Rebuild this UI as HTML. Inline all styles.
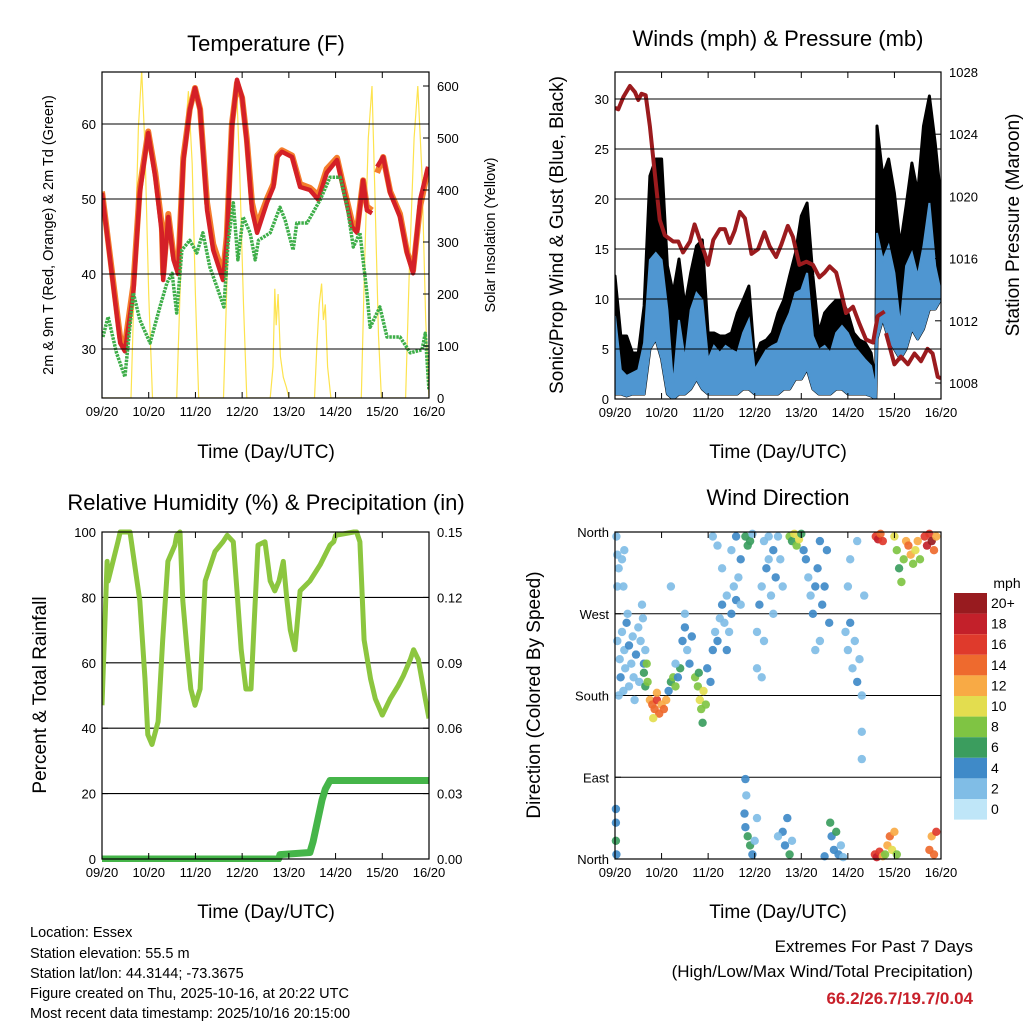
<!DOCTYPE html>
<html><head><meta charset="utf-8">
<style>
html,body{margin:0;padding:0;background:#fff;}
svg{display:block;font-family:"Liberation Sans",sans-serif;}
</style></head>
<body>
<svg id="chart" width="1024" height="1024" viewBox="0 0 1024 1024" xmlns="http://www.w3.org/2000/svg">
<rect x="0" y="0" width="1024" height="1024" fill="#fff"/>
<text x="266" y="51" font-size="22" text-anchor="middle">Temperature (F)</text>
<text x="778" y="46" font-size="22" text-anchor="middle">Winds (mph) &amp; Pressure (mb)</text>
<text x="266" y="510" font-size="22" text-anchor="middle">Relative Humidity (%) &amp; Precipitation (in)</text>
<text x="778" y="505" font-size="22" text-anchor="middle">Wind Direction</text>

<text x="266" y="458" font-size="19" text-anchor="middle">Time (Day/UTC)</text>
<text x="778" y="458" font-size="19" text-anchor="middle">Time (Day/UTC)</text>
<text x="266" y="918" font-size="19" text-anchor="middle">Time (Day/UTC)</text>
<text x="778" y="918" font-size="19" text-anchor="middle">Time (Day/UTC)</text>

<text transform="translate(53,235) rotate(-90)" font-size="14.5" text-anchor="middle">2m &amp; 9m T (Red, Orange) &amp; 2m Td (Green)</text>
<text transform="translate(495,235) rotate(-90)" font-size="14.5" text-anchor="middle">Solar Insolation (Yellow)</text>
<text transform="translate(563,235) rotate(-90)" font-size="19" text-anchor="middle">Sonic/Prop Wind &amp; Gust (Blue, Black)</text>
<text transform="translate(1019,225) rotate(-90)" font-size="19" text-anchor="middle">Station Pressure (Maroon)</text>
<text transform="translate(46,695) rotate(-90)" font-size="19" text-anchor="middle">Percent &amp; Total Rainfall</text>
<text transform="translate(540,695) rotate(-90)" font-size="19" text-anchor="middle">Direction (Colored By Speed)</text>

<g font-size="14.5">
<text x="30" y="937">Location: Essex</text>
<text x="30" y="958">Station elevation: 55.5 m</text>
<text x="30" y="978">Station lat/lon: 44.3144; -73.3675</text>
<text x="30" y="998">Figure created on Thu, 2025-10-16, at 20:22 UTC</text>
<text x="30" y="1018">Most recent data timestamp: 2025/10/16 20:15:00</text>
</g>
<text x="973" y="952" font-size="17" text-anchor="end">Extremes For Past 7 Days</text>
<text x="973" y="977" font-size="17" text-anchor="end">(High/Low/Max Wind/Total Precipitation)</text>
<text x="973" y="1004" font-size="17" font-weight="bold" fill="#c8202a" text-anchor="end">66.2/26.7/19.7/0.04</text>
<text x="1007" y="588" font-size="14" text-anchor="middle">mph</text>
</svg>
<script>
// ---------- DATA ----------
const dayLabels = ["09/20","10/20","11/20","12/20","13/20","14/20","15/20","16/20"];
const tempTicks = [30,40,50,60];
const solarTicks = [0,100,200,300,400,500,600];
const windTicks = [0,5,10,15,20,25,30];
const pressTicks = [1008,1012,1016,1020,1024,1028];
const rhTicks = [0,20,40,60,80,100];
const precipTicks = ["0.00","0.03","0.06","0.09","0.12","0.15"];
const dirTickLabels = ["North","East","South","West","North"];
const dirTickValues = [0,90,180,270,360];
const speedLabels = ["0","2","4","6","8","10","12","14","16","18","20+"];
const speedColors = ["#bfe6f8","#80bde6","#3f8ac8","#3b9d5e","#7fc443","#e3dd4f","#f8aa45","#ee6a2e","#df3a2c","#c3202a","#981b1f"];

const tempRedTimes = [0,0.39,0.49,0.67,0.81,0.99,1.14,1.28,1.31,1.42,1.53,1.63,1.74,1.88,1.99,2.1,2.25,2.38,2.59,2.67,2.78,2.89,3.0,3.1,3.21,3.32,3.53,3.67,3.75,3.85,4.07,4.24,4.45,4.63,4.81,5.03,5.16,5.35,5.46,5.59,5.67,5.78,null,5.89,6.02,6.17,6.38,6.53,6.66,6.81,6.98];
const tempRed = [50.8,30.8,29.7,37.5,50.8,58.8,52.9,45.5,39.2,47.6,41.9,40.0,55.0,61.9,64.8,61.9,48.5,43.2,39.2,44.1,59.6,65.9,63.6,57.5,48.5,45.5,49.5,51.6,55.6,56.3,55.6,51.6,51.2,49.9,53.5,55.2,51.6,46.3,45.5,52.5,48.5,48.1,null,54.3,55.6,50.8,47.6,42.8,40.1,49.9,54.3];
const tempOrange = [51.0,31.5,30.5,38.5,51.5,59.0,53.5,46.5,40.0,48.0,42.5,40.5,55.5,62.0,64.8,62.0,49.5,44.0,40.0,45.0,60.0,65.5,63.5,58.0,49.5,46.5,50.0,52.0,55.8,56.5,55.8,52.0,51.5,50.5,54.0,55.5,52.0,47.0,46.0,52.5,49.0,48.5,null,53.5,55.6,51.0,48.0,43.0,40.5,49.0,54.0];
const tempGreenTimes = [0.02,0.13,0.31,0.49,0.67,0.81,1.03,1.24,1.39,1.5,1.6,1.71,1.88,2.03,2.16,2.31,2.46,2.61,2.7,2.81,2.91,3.02,3.17,3.28,3.35,3.6,3.81,3.92,4.09,4.17,4.39,4.67,4.88,5.1,5.25,5.38,5.52,5.67,5.74,5.95,6.1,6.38,6.6,6.85,6.92,7.0];
const tempGreen = [31.6,34.3,29.5,26.3,37.5,33.9,30.8,35.6,38.8,40.1,34.8,43.2,44.5,42.8,45.5,40.9,38.3,35.6,44.1,49.5,41.9,47.6,45.5,41.9,44.5,45.5,48.9,47.2,43.2,46.8,46.8,49.9,52.9,52.9,48.9,43.6,45.5,37.5,32.9,35.6,31.6,31.6,29.5,29.9,32.1,24.5];
const solarTimes = [0,0.62,0.7,0.78,0.85,0.92,1.0,1.08,1.6,1.68,1.76,1.85,1.93,2.0,2.07,2.6,2.68,2.76,2.88,2.95,3.03,3.1,3.6,3.66,3.7,3.73,3.77,3.82,3.88,3.95,4.0,4.55,4.6,4.65,4.7,4.74,4.78,4.83,4.9,5.55,5.62,5.7,5.78,5.84,5.92,5.98,6.5,6.58,6.68,6.76,6.85,6.93,7.0];
const solarValues = [0,0,250,520,630,480,200,0,0,230,480,590,450,200,0,0,240,500,605,430,180,0,0,60,210,140,200,80,40,20,0,0,100,180,220,150,180,60,0,0,250,500,600,400,120,0,0,250,500,600,430,150,0];

const windTimes = [0,0.125,0.25,0.375,0.5,0.625,0.75,0.875,1.0,1.125,1.25,1.375,1.5,1.625,1.75,1.875,2.0,2.125,2.25,2.375,2.5,2.625,2.75,2.875,3.0,3.125,3.25,3.375,3.5,3.625,3.75,3.875,4.0,4.125,4.25,4.375,4.5,4.625,4.75,4.875,5.0,5.125,5.25,5.375,5.5,5.6,5.625,5.75,5.875,6.0,6.125,6.25,6.375,6.5,6.625,6.75,6.875,7.0];
const windSustMax = [8.3,2.9,2.3,2.6,2.9,5.6,13.9,14.6,13.9,8.9,1.3,7.9,3.9,8.9,10.6,9.9,3.9,5.3,4.6,5.3,4.9,4.6,6.6,7.9,2.9,3.9,4.9,5.3,5.6,7.3,8.6,10.6,10.9,12.6,6.3,4.9,5.3,4.6,6.6,7.3,6.6,5.3,4.6,3.9,3.3,1.0,16.6,13.9,15.3,12.6,7.3,13.3,14.6,12.3,15.3,19.6,13.3,10.6];
const windSustMin = [0.5,0.5,0.3,0.5,0.5,0.5,5,6,4,0.5,0,0.5,0.5,1,2,1,0.5,0.5,0.5,0.5,0.5,0.5,1,1,0.5,0.5,0.5,0.5,0.5,1,1,2,2,3,1,0.5,0.5,0.5,1,1,0.5,0.5,0.5,0.5,0.3,0,6,8,6,5,4,5,7,6,7,9,9,10];
const windGustMax = [12.3,6.3,6.3,4.6,4.6,9.3,22.3,24.0,24.0,13.3,10.6,14.0,9.3,12.6,15.3,15.9,6.6,6.6,6.3,6.3,6.6,8.6,9.9,11.3,3.9,5.6,5.9,6.6,8.6,9.9,12.3,14.6,18.3,19.6,12.3,6.6,8.6,9.3,9.9,9.9,8.6,6.6,5.9,5.6,4.6,1.5,27.3,22.3,24.0,20.6,15.3,19.3,23.6,20.6,27.3,30.3,25.6,19.9];
const pressTimes = [0,0.07,0.18,0.32,0.43,0.5,0.57,0.66,0.75,0.86,0.96,1.07,1.25,1.36,1.46,1.61,1.71,1.82,1.93,2.0,2.11,2.25,2.36,2.46,2.57,2.68,2.79,2.93,3.07,3.21,3.32,3.46,3.57,3.71,3.82,3.96,4.11,4.25,4.39,4.5,4.61,4.75,4.86,4.96,5.11,5.25,5.39,5.54,5.64,5.79,null,5.82,6.0,6.14,6.29,6.43,6.57,6.71,6.82,6.93,7.0];
const pressValues = [1025.7,1025.6,1026.4,1027.1,1026.7,1026.2,1026.6,1026.5,1024.5,1021.3,1018.5,1017.5,1017.1,1017.1,1016.4,1017.1,1018.2,1017.2,1016.3,1015.6,1017.2,1017.9,1017.9,1017.0,1017.8,1019.0,1018.6,1016.3,1016.6,1017.7,1016.8,1016.1,1016.9,1018.1,1017.4,1015.6,1015.8,1015.6,1014.8,1015.1,1015.5,1015.1,1013.8,1012.5,1012.9,1011.8,1010.8,1010.6,1012.3,1012.6,null,1011.2,1009.2,1009.7,1009.2,1009.9,1009.4,1010.2,1009.9,1008.4,1008.3];

const rhTimes = [0,0.11,0.13,0.34,0.39,0.6,0.81,0.92,0.98,1.07,1.2,1.3,1.41,1.56,1.6,1.67,1.73,1.82,1.9,1.99,2.1,2.21,2.42,2.59,2.68,2.81,2.89,2.98,3.08,3.19,3.26,3.34,3.49,3.6,3.7,3.79,3.88,3.96,4.03,4.13,4.24,4.45,4.67,4.88,4.96,5.0,5.39,5.45,5.52,5.61,5.75,5.85,6.0,6.17,6.34,6.45,6.6,6.67,6.77,6.92,7.0];
const rhValues = [47,91,85,97,100,100,79,55,38,35,42,67,91,96,99,100,79,64,52,47,52,85,94,97,99,97,82,64,52,52,73,96,97,85,82,85,91,79,70,64,82,85,90,96,97,99,100,100,97,67,55,49,44,49,53,56,61,64,61,49,43,30];
const precipTimes = [0,3.78,3.81,4.45,4.52,4.62,4.71,4.78,4.88,5.0,7.0];
const precipValues = [0,0,0.002,0.003,0.008,0.018,0.027,0.032,0.036,0.036,0.036];

const dirTimes = [0.05,0.1,0.12,0.15,0.2,0.22,0.25,0.3,0.3,0.35,0.38,0.4,0.45,0.5,0.52,0.55,0.6,0.62,0.08,0.18,0.42,0.65,0.27,0.58,0.03,0.05,0.08,0.15,0.2,0.18,0.05,0.02,0.02,0.03,0.02,0.62,0.65,0.68,0.7,0.75,0.8,0.85,0.9,0.95,1.0,1.05,0.82,0.9,1.1,1.15,1.2,1.25,1.3,1.35,1.4,1.45,1.5,1.55,1.6,1.5,1.3,1.65,1.2,1.72,1.78,1.82,1.85,1.9,1.95,1.8,1.88,1.98,2.05,2.1,2.15,2.2,2.25,2.3,2.35,2.4,2.45,2.5,2.55,2.6,2.65,2.7,2.4,2.3,2.2,2.1,2.6,2.5,2.7,2.8,2.85,2.9,2.95,2.78,2.8,2.85,2.9,2.95,3.0,2.82,3.05,2.8,3.05,3.1,3.15,3.2,3.25,3.3,3.35,3.4,3.45,3.5,3.55,3.6,3.05,3.15,3.4,3.2,3.3,3.6,3.65,3.7,3.75,3.8,3.5,3.75,3.8,3.85,3.9,3.95,4.0,4.05,4.1,4.15,4.2,4.25,4.3,4.35,4.4,4.45,4.5,4.55,4.6,4.3,4.4,4.62,4.65,4.7,4.75,4.8,4.85,4.9,4.5,4.95,5.0,5.05,5.1,5.15,5.2,5.25,5.3,5.0,5.05,5.2,5.35,5.3,5.3,5.6,5.65,5.7,5.75,5.58,5.62,5.68,5.75,5.8,5.85,5.9,5.95,6.0,6.05,6.0,6.05,6.1,6.15,6.2,6.25,6.3,6.35,6.4,6.45,6.5,6.55,6.65,6.7,6.75,6.8,6.85,6.9,6.75,6.8,6.85,6.9];
const dirValues = [240,220,200,250,230,210,260,190,235,215,245,200,225,255,195,240,265,215,180,185,175,230,270,280,355,335,320,330,340,300,300,40,20,5,55,205,190,215,195,175,170,165,175,160,170,165,155,183,175,185,195,200,190,200,210,240,255,230,215,270,215,245,300,200,190,175,165,185,170,205,150,210,195,230,250,240,265,280,260,290,250,270,300,285,310,330,230,320,345,355,355,340,280,355,345,350,358,50,35,25,15,5,20,70,45,88,250,280,300,240,320,330,290,340,310,355,330,300,210,200,270,350,355,30,15,45,5,20,25,355,350,358,345,352,358,340,330,310,290,270,300,320,350,280,300,340,260,230,240,40,25,10,30,5,15,2,3,250,230,260,210,240,195,220,180,300,330,350,290,140,110,355,352,358,350,5,2,8,3,5,15,25,10,30,5,355,340,320,305,330,350,345,335,325,340,350,330,355,345,358,350,340,355,10,25,5,30];
const dirSpeeds = [2,2,3,2,1,2,3,2,3,1,2,2,3,2,2,1,2,3,1,2,2,2,1,2,2,1,2,1,2,2,1,4,6,4,4,6,6,7,7,12,14,13,15,14,12,13,10,12,12,4,5,7,8,4,5,4,4,2,4,2,2,3,2,7,8,9,8,10,8,6,6,4,4,3,2,3,2,3,2,2,2,3,2,4,2,4,3,1,2,2,3,1,2,6,6,5,2,4,4,6,6,4,2,2,1,4,2,3,2,2,3,2,2,3,4,2,2,1,1,2,2,2,1,4,4,4,6,2,2,8,6,10,8,10,6,4,3,2,2,3,4,4,4,4,4,3,4,1,2,6,4,4,6,4,2,1,4,2,2,3,2,2,3,2,2,2,1,2,1,1,1,16,18,14,16,16,18,16,12,8,12,14,10,12,8,10,8,6,7,8,12,14,12,8,10,12,8,16,18,16,20,14,12,14,12,14,16];

// ---------- HELPERS ----------
const NS = "http://www.w3.org/2000/svg";
const svg = document.getElementById('chart');
function mk(tag, attrs, parent){
  const e = document.createElementNS(NS, tag);
  for (const k in attrs) e.setAttribute(k, attrs[k]);
  (parent || svg).appendChild(e);
  return e;
}
function xScale(L,R){ return d => L + d*(R-L)/7; }
function pathFrom(times, vals, xf, yf){
  let d = "", pen = false;
  for (let i=0;i<times.length;i++){
    if (times[i]===null || vals[i]===null){ pen=false; continue; }
    d += (pen ? "L" : "M") + xf(times[i]).toFixed(1) + "," + yf(vals[i]).toFixed(1);
    pen = true;
  }
  return d;
}
function bandFrom(times, lo, hi, xf, yf){
  let d = "M";
  for (let i=0;i<times.length;i++) d += (i?"L":"") + xf(times[i]).toFixed(1)+","+yf(hi[i]).toFixed(1);
  for (let i=times.length-1;i>=0;i--) d += "L" + xf(times[i]).toFixed(1)+","+yf(lo[i]).toFixed(1);
  return d + "Z";
}
function frame(L,R,T,B,name){
  const g = mk('g',{});
  
  
  return g;
}
function xAxis(g,L,R,B,T,prefix){
  const xf = xScale(L,R);
  dayLabels.forEach((lab,i)=>{
    const x = xf(i);
    const t = mk('line',{x1:x,x2:x,y1:B,y2:B-6,stroke:"#000","stroke-width":1},g);
    
    
    const t2 = mk('line',{x1:x,x2:x,y1:T,y2:T+6,stroke:"#000","stroke-width":1},g);
    
    
    const tx = mk('text',{x:x,y:B+18,"font-size":13,"text-anchor":"middle"},g);
    tx.textContent = lab;
    
    
  });
}
function yTicks(g, vals, labels, yf, xEdge, side, prefix, grid, L, R){
  vals.forEach((v,i)=>{
    const y = yf(v);
    if (grid){
      const gl = mk('line',{x1:L,x2:R,y1:y,y2:y,stroke:"#000","stroke-width":1.1},g);
      
      
    }
    const tk = mk('line',{x1:xEdge,x2:xEdge+(side<0?6:-6),y1:y,y2:y,stroke:"#000"},g);
    
    
    const tx = mk('text',{x: side<0 ? xEdge-6 : xEdge+8, y:y+5,"font-size":13,"text-anchor": side<0?"end":"start"},g);
    tx.textContent = labels[i];
    
    
  });
}
function border(g,L,R,T,B,prefix){
  const r = mk('rect',{x:L,y:T,width:R-L,height:B-T,fill:"none",stroke:"#000","stroke-width":1.2},g);
  
  
}

// ---------- PANEL 1: TEMPERATURE ----------
(function(){
  const L=102,R=429,T=72,B=398;
  const g = frame(L,R,T,B,'temperature-panel');
  const xf = xScale(L,R);
  const yT = v => 349 - (v-30)*7.5;
  const yS = v => 398 - v*0.52;
  const clip = mk('clipPath',{id:"c1"},g); mk('rect',{x:L,y:T,width:R-L,height:B-T},clip);
  const pg = mk('g',{"clip-path":"url(#c1)"},g);
  yTicks(g, tempTicks, tempTicks.map(String), yT, L, -1, 'temp-y', true, L, R);
  yTicks(g, solarTicks, solarTicks.map(String), yS, R, 1, 'solar-y', false, L, R);
  const s = mk('path',{d:pathFrom(solarTimes,solarValues,xf,yS),fill:"none",stroke:"#fde34e","stroke-width":1.2},pg);
  
  
  const o = mk('path',{d:pathFrom(tempRedTimes,tempOrange,xf,yT),fill:"none",stroke:"#f47d2c","stroke-width":6,"stroke-linejoin":"round"},pg);
  
  
  const r = mk('path',{d:pathFrom(tempRedTimes,tempRed,xf,yT),fill:"none",stroke:"#d42027","stroke-width":4.5,"stroke-linejoin":"round"},pg);
  
  
  const gr = mk('path',{d:pathFrom(tempGreenTimes,tempGreen,xf,yT),fill:"none",stroke:"#3eae49","stroke-width":3.5,"stroke-dasharray":"2.5 1","stroke-linejoin":"round"},pg);
  
  
  border(g,L,R,T,B,'temp');
  xAxis(g,L,R,B,T,'temp');
})();

// ---------- PANEL 2: WINDS ----------
(function(){
  const L=615,R=941,T=72,B=399;
  const g = frame(L,R,T,B,'winds-panel');
  const xf = xScale(L,R);
  const yW = v => 399 - v*10;
  const yP = v => 383 - (v-1008)*15.55;
  const clip = mk('clipPath',{id:"c2"},g); mk('rect',{x:L,y:T,width:R-L,height:B-T},clip);
  const pg = mk('g',{"clip-path":"url(#c2)"},g);
  yTicks(g, windTicks, windTicks.map(String), yW, L, -1, 'wind-y', true, L, R);
  yTicks(g, pressTicks, pressTicks.map(String), yP, R, 1, 'pressure-y', false, L, R);
  const gb = mk('path',{d:bandFrom(windTimes,windSustMin,windGustMax,xf,yW),fill:"#000",stroke:"#000","stroke-width":3,"stroke-linejoin":"round"},pg);
  
  
  const sb = mk('path',{d:bandFrom(windTimes,windSustMin,windSustMax,xf,yW),fill:"#4f96d1",stroke:"#4f96d1","stroke-width":2},pg);
  
  
  const p = mk('path',{d:pathFrom(pressTimes,pressValues,xf,yP),fill:"none",stroke:"#9b1b1e","stroke-width":4,"stroke-linejoin":"round"},pg);
  
  
  border(g,L,R,T,B,'wind');
  xAxis(g,L,R,B,T,'wind');
})();

// ---------- PANEL 3: RH & PRECIP ----------
(function(){
  const L=102,R=429,T=532,B=859;
  const g = frame(L,R,T,B,'humidity-panel');
  const xf = xScale(L,R);
  const yR = v => 859 - v*3.27;
  const yPr = v => 859 - v/0.15*327;
  yTicks(g, rhTicks, rhTicks.map(String), yR, L, -1, 'rh-y', true, L, R);
  yTicks(g, precipTicks.map(Number), precipTicks, yPr, R, 1, 'precip-y', false, L, R);
  const clip = mk('clipPath',{id:"c3"},g); mk('rect',{x:L,y:T-3,width:R-L,height:B-T+6},clip);
  const pg = mk('g',{"clip-path":"url(#c3)"},g);
  const rh = mk('path',{d:pathFrom(rhTimes,rhValues,xf,yR),fill:"none",stroke:"#8cc63f","stroke-width":5,"stroke-linejoin":"round"},pg);
  
  
  const pr = mk('path',{d:pathFrom(precipTimes,precipValues,xf,yPr),fill:"none",stroke:"#45b549","stroke-width":7,"stroke-linejoin":"round"},pg);
  
  
  border(g,L,R,T,B,'rh');
  xAxis(g,L,R,B,T,'rh');
})();

// ---------- PANEL 4: WIND DIRECTION ----------
(function(){
  const L=615,R=941,T=532,B=859;
  const g = frame(L,R,T,B,'wind-direction-panel');
  const xf = xScale(L,R);
  const yD = v => 859 - v/360*327;
  yTicks(g, dirTickValues, dirTickLabels, yD, L, -1, 'dir-y', true, L, R);
  const clip = mk('clipPath',{id:"c4"},g); mk('rect',{x:L-4,y:T-4,width:R-L+8,height:B-T+8},clip);
  const pg = mk('g',{"clip-path":"url(#c4)"},g);
  for (let i=0;i<dirTimes.length;i++){
    const ci = Math.min(10, Math.round(dirSpeeds[i]/2));
    const c = mk('circle',{cx:xf(dirTimes[i]).toFixed(1),cy:yD(dirValues[i]).toFixed(1),r:4.2,fill:speedColors[ci],"fill-opacity":0.92},pg);
    
    
  }
  border(g,L,R,T,B,'dir');
  xAxis(g,L,R,B,T,'dir');
  // colorbar
  const cb = mk('g',{});
  
  
  for (let i=0;i<speedLabels.length;i++){
    const k = speedLabels.length-1-i;
    const y = 593 + i*20.6;
    const r = mk('rect',{x:954,y:y,width:33,height:20.6,fill:speedColors[k]},cb);
    
    
    const t = mk('text',{x:991,y:y+15,"font-size":14},cb);
    t.textContent = speedLabels[k];
    
    
  }
})();
</script>
</body></html>
